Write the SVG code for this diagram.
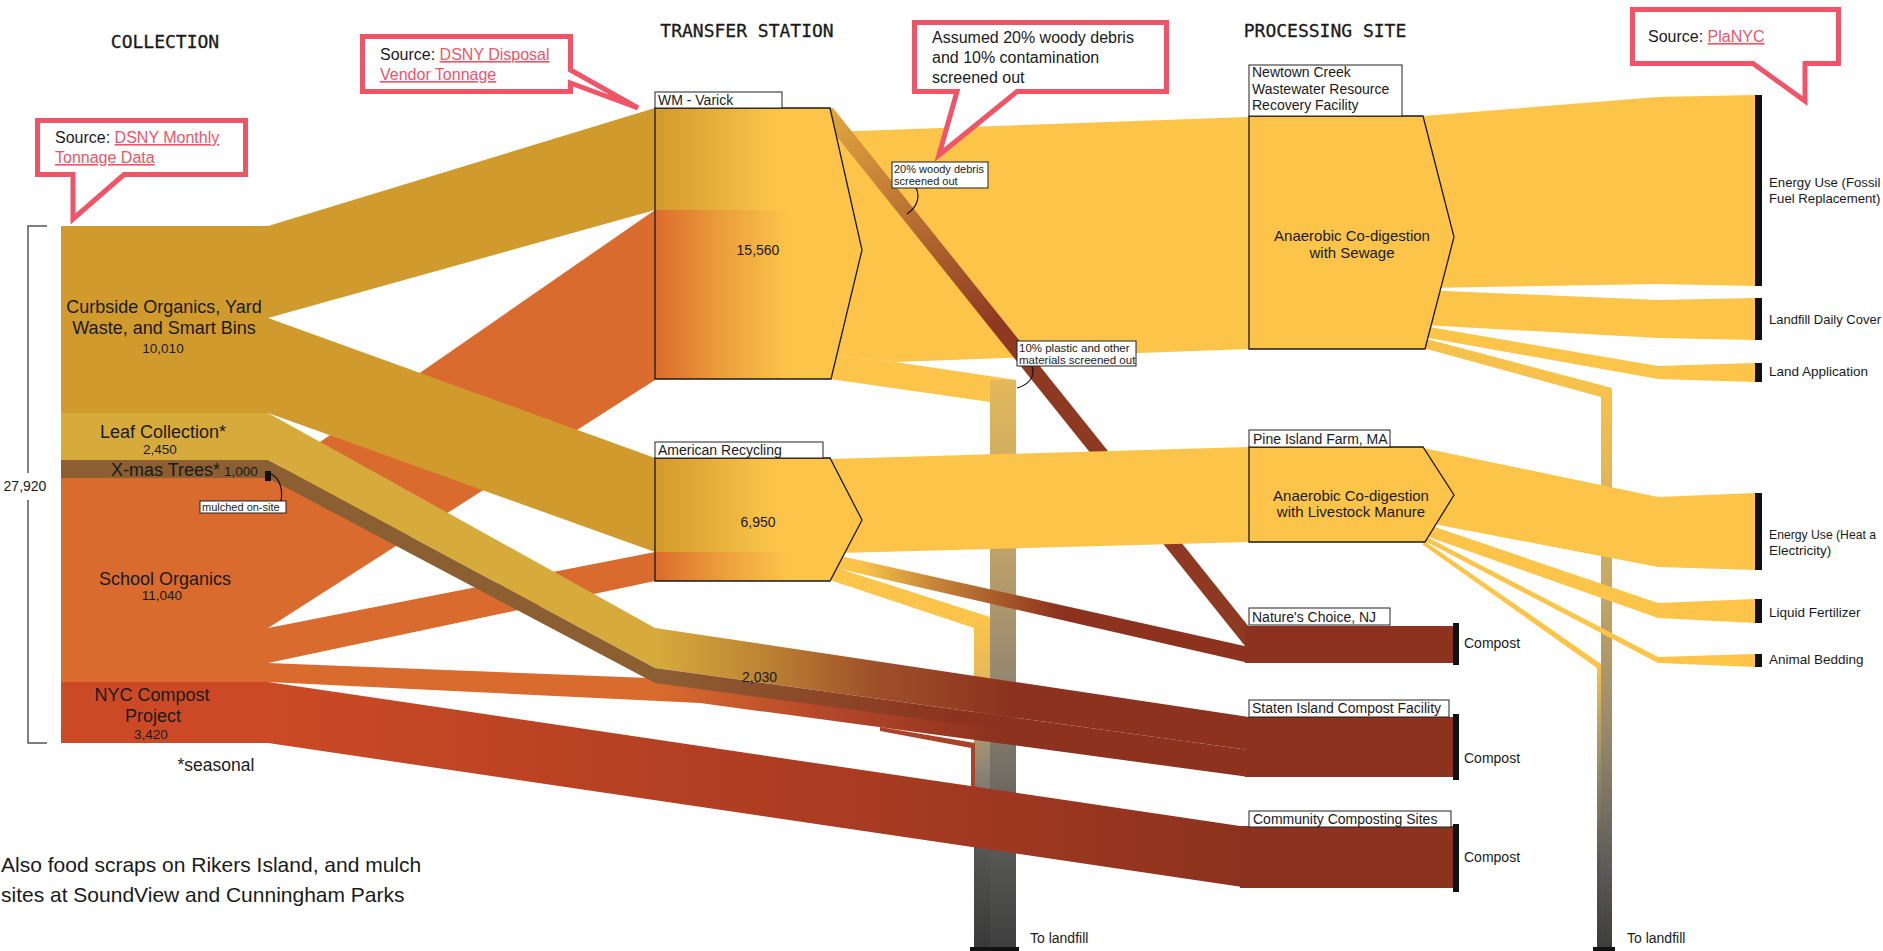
<svg xmlns="http://www.w3.org/2000/svg" width="1883" height="951" viewBox="0 0 1883 951">
<defs>
<style>
.t{font-family:"Liberation Sans",Arial,sans-serif;fill:#1a1a1a}
.h{font-family:"DejaVu Sans Mono","Liberation Mono",monospace;font-size:18px;fill:#1a1a1a;stroke:#1a1a1a;stroke-width:0.3}
.lbl{fill:#fff;stroke:#222;stroke-width:1}
.node{fill:none;stroke:#1a1a1a;stroke-width:1.3}
.y{fill:#FCC549}
.brown{fill:#8C321E}
.bar{fill:#111}
.callout{fill:#fff;stroke:#EF5467;stroke-width:5;stroke-linejoin:miter;stroke-miterlimit:10}
.link{fill:#EF5467;text-decoration:underline}
.ann{fill:none;stroke:#111;stroke-width:1.2}
.out{font-size:13.5px}
</style>
<linearGradient id="gTopIn" gradientUnits="userSpaceOnUse" x1="655" y1="0" x2="775" y2="0"><stop offset="0" stop-color="#D19A2C"/><stop offset="1" stop-color="#FCC549"/></linearGradient>
<linearGradient id="gBotIn" gradientUnits="userSpaceOnUse" x1="655" y1="0" x2="790" y2="0"><stop offset="0" stop-color="#DC6A2C"/><stop offset="0.45" stop-color="#EA9A3A"/><stop offset="1" stop-color="#FCC549"/></linearGradient>
<linearGradient id="gWoody" gradientUnits="userSpaceOnUse" x1="833" y1="108" x2="1000" y2="320"><stop offset="0" stop-color="#E2A540"/><stop offset="1" stop-color="#8E3A22"/></linearGradient>
<linearGradient id="gAmNat" gradientUnits="userSpaceOnUse" x1="860" y1="0" x2="1060" y2="0"><stop offset="0" stop-color="#FCC549"/><stop offset="0.35" stop-color="#C88838"/><stop offset="1" stop-color="#8C321E"/></linearGradient>
<linearGradient id="gLeaf" gradientUnits="userSpaceOnUse" x1="655" y1="0" x2="1010" y2="0"><stop offset="0" stop-color="#D6AB3B"/><stop offset="0.3" stop-color="#BE8434"/><stop offset="0.6" stop-color="#A0522A"/><stop offset="1" stop-color="#8C321E"/></linearGradient>
<linearGradient id="gXmas" gradientUnits="userSpaceOnUse" x1="655" y1="0" x2="960" y2="0"><stop offset="0" stop-color="#8C5F33"/><stop offset="1" stop-color="#8C321E"/></linearGradient>
<linearGradient id="gSchoolC" gradientUnits="userSpaceOnUse" x1="655" y1="0" x2="1000" y2="0"><stop offset="0" stop-color="#D96B2E"/><stop offset="0.5" stop-color="#B5472A"/><stop offset="1" stop-color="#8C321E"/></linearGradient>
<linearGradient id="gNyc" gradientUnits="userSpaceOnUse" x1="268" y1="0" x2="1249" y2="0"><stop offset="0" stop-color="#CB4A25"/><stop offset="0.6" stop-color="#A93B22"/><stop offset="1" stop-color="#8C321E"/></linearGradient>
<linearGradient id="gCol1a" gradientUnits="userSpaceOnUse" x1="0" y1="380" x2="0" y2="951"><stop offset="0" stop-color="#E2B85A"/><stop offset="0.3" stop-color="#BFA16A"/><stop offset="0.55" stop-color="#8F8470"/><stop offset="0.8" stop-color="#5C5C5A"/><stop offset="1" stop-color="#3E3E3E"/></linearGradient>
<linearGradient id="gCol1b" gradientUnits="userSpaceOnUse" x1="0" y1="617" x2="0" y2="951"><stop offset="0" stop-color="#FCC549"/><stop offset="0.2" stop-color="#E2B65A"/><stop offset="0.45" stop-color="#8E8676"/><stop offset="0.7" stop-color="#555553"/><stop offset="1" stop-color="#383838"/></linearGradient>
<linearGradient id="gCol2a" gradientUnits="userSpaceOnUse" x1="0" y1="390" x2="0" y2="951"><stop offset="0" stop-color="#F6C24B"/><stop offset="0.35" stop-color="#C6A766"/><stop offset="0.6" stop-color="#9A8A6C"/><stop offset="0.85" stop-color="#5E5C58"/><stop offset="1" stop-color="#3C3C3C"/></linearGradient>
<linearGradient id="gCol2b" gradientUnits="userSpaceOnUse" x1="0" y1="660" x2="0" y2="951"><stop offset="0" stop-color="#FCC549"/><stop offset="0.3" stop-color="#A8966A"/><stop offset="0.7" stop-color="#5A5856"/><stop offset="1" stop-color="#3A3A3A"/></linearGradient>
</defs>
<rect width="1883" height="951" fill="#fff"/>

<g id="connectors">
  <polygon class="y" points="830,132 1249,117 1249,349 895,362 830,355"/>
  <polygon class="y" points="830,355 895,362 1016,380 1016,402 990,402 830,379"/>
  <rect x="990" y="380" width="26" height="571" fill="url(#gCol1a)"/>
  <polygon fill="url(#gWoody)" points="814,108 833,108 1249,627 1249,651"/>
  <polygon class="y" points="830,569 840,569 990,617 990,640 974,640 974,628 830,580"/>
  <rect x="974" y="617" width="16" height="334" fill="url(#gCol1b)"/>
  <polygon fill="url(#gAmNat)" points="830,557 845,557 1249,647 1249,663 840,569 830,569"/>
  <polygon class="y" points="830,459 1249,447 1249,542 840,553 830,553"/>
  <polygon fill="#A9442A" points="880,727 975,743 975,800 971,800 971,748 880,731"/>
  <polygon fill="#D96B2E" points="268,478 655,210 655,380 268,628"/>
  <polygon fill="#D96B2E" points="268,628 655,552 655,581 268,663"/>
  <polygon fill="url(#gSchoolC)" points="268,663 700,680 1249,761 1249,777 700,703 268,682"/>
  <polygon fill="#D19A2C" points="268,226 655,108 655,210 268,318"/>
  <polygon fill="#D19A2C" points="268,318 655,458 655,552 268,413"/>
  <polygon fill="url(#gLeaf)" points="268,413 655,628 1249,717 1249,750 655,668 268,460"/>
  <polygon fill="url(#gXmas)" points="268,460 655,668 1249,750 1249,763 655,683 268,478"/>
  <polygon fill="url(#gNyc)" points="268,682 1240,826 1249,826 1249,888 268,743"/>
  <polygon class="y" points="1423,116 1658,97 1755,95 1755,286 1658,284 1423,288"/>
  <polygon class="y" points="1423,290 1658,300 1755,298 1755,340 1658,338 1423,325"/>
  <polygon class="y" points="1423,326 1658,366 1755,363 1755,382 1658,379 1423,337"/>
  <polygon fill="url(#gCol2a)" points="1423,338 1612,388 1612,951 1601,951 1601,397 1423,348"/>
  <polygon class="y" points="1423,448 1658,497 1755,493 1755,570 1658,567 1423,522"/>
  <polygon class="y" points="1423,523 1658,603 1755,599 1755,623 1658,618 1423,535"/>
  <polygon class="y" points="1423,535 1658,657 1755,654 1755,667 1658,663 1423,540"/>
  <polygon fill="url(#gCol2b)" points="1423,540 1601,664 1601,951 1597,951 1597,668 1423,545"/>
</g>

<g id="n-curbside">
  <rect x="61" y="226" width="207" height="187" fill="#D19A2C"/>
  <text class="t" x="164" y="313" font-size="18" text-anchor="middle">Curbside Organics, Yard</text>
  <text class="t" x="164" y="334" font-size="18" text-anchor="middle">Waste, and Smart Bins</text>
  <text class="t" x="163" y="353" font-size="13.5" text-anchor="middle">10,010</text>
</g>
<g id="n-leaf">
  <rect x="61" y="413" width="207" height="47" fill="#D6AB3B"/>
  <text class="t" x="163" y="438" font-size="18" text-anchor="middle">Leaf Collection*</text>
  <text class="t" x="160" y="454" font-size="13.5" text-anchor="middle">2,450</text>
</g>
<g id="n-school">
  <rect x="61" y="478" width="207" height="204" fill="#D96B2E"/>
  <text class="t" x="165" y="585" font-size="18" text-anchor="middle">School Organics</text>
  <text class="t" x="162" y="600" font-size="13.5" text-anchor="middle">11,040</text>
</g>
<g id="n-nyc">
  <rect x="61" y="682" width="207" height="61" fill="#CB4A25"/>
  <text class="t" x="152" y="701" font-size="18" text-anchor="middle">NYC Compost</text>
  <text class="t" x="153" y="722" font-size="18" text-anchor="middle">Project</text>
  <text class="t" x="151" y="739" font-size="13.5" text-anchor="middle">3,420</text>
</g>
<g id="n-xmas">
  <rect x="61" y="460" width="207" height="18" fill="#8C5F33"/>
  <text class="t" x="111" y="476" font-size="18">X-mas Trees*<tspan font-size="13.5" dx="4">1,000</tspan></text>
  <rect x="265" y="471" width="6" height="10" fill="#111"/>
  <path class="ann" d="M271,474 C280,478 283,490 281,501"/>
  <rect class="lbl" x="200" y="501" width="86" height="12"/>
  <text class="t" x="202" y="511" font-size="11">mulched on-site</text>
</g>
<g id="n-total">
  <path d="M47,226 H28 V473 M28,500 V743 H47" fill="none" stroke="#555" stroke-width="1.5"/>
  <text class="t" x="25" y="491" font-size="14" text-anchor="middle">27,920</text>
</g>

<g id="n-wm">
  <polygon class="y" points="655,108 830,108 862,250 831,379 655,379"/>
  <rect x="655" y="108" width="175" height="102" fill="url(#gTopIn)"/>
  <rect x="655" y="210" width="176" height="169" fill="url(#gBotIn)"/>
  <polygon class="node" points="655,108 830,108 862,250 831,379 655,379"/>
  <rect class="lbl" x="655" y="92" width="127" height="16"/>
  <text class="t" x="658" y="105" font-size="14">WM - Varick</text>
  <text class="t" x="758" y="255" font-size="14" text-anchor="middle">15,560</text>
</g>
<g id="n-american">
  <polygon class="y" points="655,458 830,458 862,520 830,581 655,581"/>
  <rect x="655" y="458" width="175" height="94" fill="url(#gTopIn)"/>
  <rect x="655" y="552" width="175" height="29" fill="url(#gBotIn)"/>
  <polygon class="node" points="655,458 830,458 862,520 830,581 655,581"/>
  <rect class="lbl" x="655" y="442" width="168" height="16"/>
  <text class="t" x="658" y="455" font-size="14">American Recycling</text>
  <text class="t" x="758" y="527" font-size="14" text-anchor="middle">6,950</text>
</g>
<g id="n-newtown">
  <polygon class="y" points="1249,116 1423,116 1454,237 1425,349 1249,349"/>
  <polygon class="node" points="1249,116 1423,116 1454,237 1425,349 1249,349"/>
  <rect class="lbl" x="1249" y="65" width="153" height="51"/>
  <text class="t" x="1252" y="77" font-size="14">Newtown Creek</text>
  <text class="t" x="1252" y="94" font-size="14">Wastewater Resource</text>
  <text class="t" x="1252" y="110" font-size="14">Recovery Facility</text>
  <text class="t" x="1352" y="241" font-size="15" text-anchor="middle">Anaerobic Co-digestion</text>
  <text class="t" x="1352" y="258" font-size="15" text-anchor="middle">with Sewage</text>
</g>
<g id="n-pine">
  <polygon class="y" points="1249,447 1423,447 1454,495 1425,542 1249,542"/>
  <polygon class="node" points="1249,447 1423,447 1454,495 1425,542 1249,542"/>
  <rect class="lbl" x="1249" y="430" width="141" height="17"/>
  <text class="t" x="1253" y="444" font-size="14">Pine Island Farm, MA</text>
  <text class="t" x="1351" y="501" font-size="15" text-anchor="middle">Anaerobic Co-digestion</text>
  <text class="t" x="1351" y="517" font-size="15" text-anchor="middle">with Livestock Manure</text>
</g>
<g id="n-natures">
  <rect class="brown" x="1245" y="626" width="208" height="37"/>
  <rect class="bar" x="1453" y="623" width="6" height="42"/>
  <rect class="lbl" x="1249" y="608" width="141" height="17"/>
  <text class="t" x="1252" y="622" font-size="14">Nature's Choice, NJ</text>
  <text class="t" x="1464" y="648" font-size="14">Compost</text>
</g>
<g id="n-staten">
  <rect class="brown" x="1245" y="717" width="208" height="60"/>
  <rect class="bar" x="1453" y="714" width="6" height="66"/>
  <rect class="lbl" x="1249" y="700" width="200" height="17"/>
  <text class="t" x="1252" y="713" font-size="14">Staten Island Compost Facility</text>
  <text class="t" x="1464" y="763" font-size="14">Compost</text>
</g>
<g id="n-community">
  <rect class="brown" x="1240" y="826" width="213" height="62"/>
  <rect class="bar" x="1453" y="824" width="6" height="68"/>
  <rect class="lbl" x="1249" y="811" width="202" height="16"/>
  <text class="t" x="1253" y="824" font-size="14">Community Composting Sites</text>
  <text class="t" x="1464" y="862" font-size="14">Compost</text>
</g>
<g id="n-landfill1">
  <rect class="bar" x="970" y="947" width="49" height="4"/>
  <text class="t" x="1030" y="943" font-size="14">To landfill</text>
</g>
<g id="n-landfill2">
  <rect class="bar" x="1593" y="947" width="22" height="4"/>
  <text class="t" x="1627" y="943" font-size="14">To landfill</text>
</g>
<g id="n-energy-fossil">
  <rect class="bar" x="1755" y="95" width="7" height="191"/>
  <text class="t" x="1769" y="187" font-size="13.2">Energy Use (Fossil</text>
  <text class="t" x="1769" y="203" font-size="13.2">Fuel Replacement)</text>
</g>
<g id="n-landfill-cover">
  <rect class="bar" x="1755" y="298" width="7" height="42"/>
  <text class="t" x="1769" y="324" font-size="13">Landfill Daily Cover</text>
</g>
<g id="n-land-app">
  <rect class="bar" x="1755" y="363" width="7" height="19"/>
  <text class="t out" x="1769" y="376">Land Application</text>
</g>
<g id="n-energy-heat">
  <rect class="bar" x="1755" y="493" width="7" height="77"/>
  <text class="t" x="1769" y="539" font-size="12.2">Energy Use (Heat a</text>
  <text class="t out" x="1769" y="555">Electricity)</text>
</g>
<g id="n-liquid">
  <rect class="bar" x="1755" y="599" width="7" height="24"/>
  <text class="t out" x="1769" y="617">Liquid Fertilizer</text>
</g>
<g id="n-animal">
  <rect class="bar" x="1755" y="654" width="7" height="13"/>
  <text class="t out" x="1769" y="664">Animal Bedding</text>
</g>

<g id="annotations">
  <text class="t" x="742" y="682" font-size="14">2,030</text>
  <path class="ann" d="M916,188 C921,198 916,208 907,214"/>
  <rect class="lbl" x="892" y="162" width="96" height="26"/>
  <text class="t" x="894" y="173" font-size="11">20% woody debris</text>
  <text class="t" x="894" y="185" font-size="11">screened out</text>
  <path class="ann" d="M1032,366 C1036,377 1028,385 1017,388"/>
  <rect class="lbl" x="1017" y="341" width="119" height="25"/>
  <text class="t" x="1019" y="352" font-size="11.5">10% plastic and other</text>
  <text class="t" x="1019" y="364" font-size="11.5">materials screened out</text>
</g>

<g id="headings">
  <text class="h" x="165" y="48" text-anchor="middle">COLLECTION</text>
  <text class="h" x="747" y="37" text-anchor="middle">TRANSFER STATION</text>
  <text class="h" x="1325" y="37" text-anchor="middle">PROCESSING SITE</text>
  <text class="t" x="216" y="771" font-size="17.5" text-anchor="middle">*seasonal</text>
  <text class="t" x="1" y="872" font-size="21">Also food scraps on Rikers Island, and mulch</text>
  <text class="t" x="1" y="902" font-size="21">sites at SoundView and Cunningham Parks</text>
</g>

<g id="callout-vendor">
  <path class="callout" d="M362.5,36.5 H570.5 V70 L638,108 L570.5,83 V91.5 H362.5 Z"/>
  <text class="t" x="380" y="60" font-size="16">Source: <tspan class="link">DSNY Disposal</tspan></text>
  <text class="t link" x="380" y="80" font-size="16">Vendor Tonnage</text>
</g>
<g id="callout-monthly">
  <path class="callout" d="M37.5,120.5 H245.5 V174.5 H124 L73,219 V174.5 H37.5 Z"/>
  <text class="t" x="55" y="143" font-size="16">Source: <tspan class="link">DSNY Monthly</tspan></text>
  <text class="t link" x="55" y="163" font-size="16">Tonnage Data</text>
</g>
<g id="callout-assumed">
  <path class="callout" d="M914.5,22.5 H1166.5 V91.5 H1017 L939,155 L957,91.5 H914.5 Z"/>
  <text class="t" x="932" y="43" font-size="16">Assumed 20% woody debris</text>
  <text class="t" x="932" y="63" font-size="16">and 10% contamination</text>
  <text class="t" x="932" y="83" font-size="16">screened out</text>
</g>
<g id="callout-planyc">
  <path class="callout" d="M1632.5,9.5 H1838.5 V63.5 H1805 V101 L1753,63.5 H1632.5 Z"/>
  <text class="t" x="1648" y="42" font-size="16">Source: <tspan class="link">PlaNYC</tspan></text>
</g>
</svg>
